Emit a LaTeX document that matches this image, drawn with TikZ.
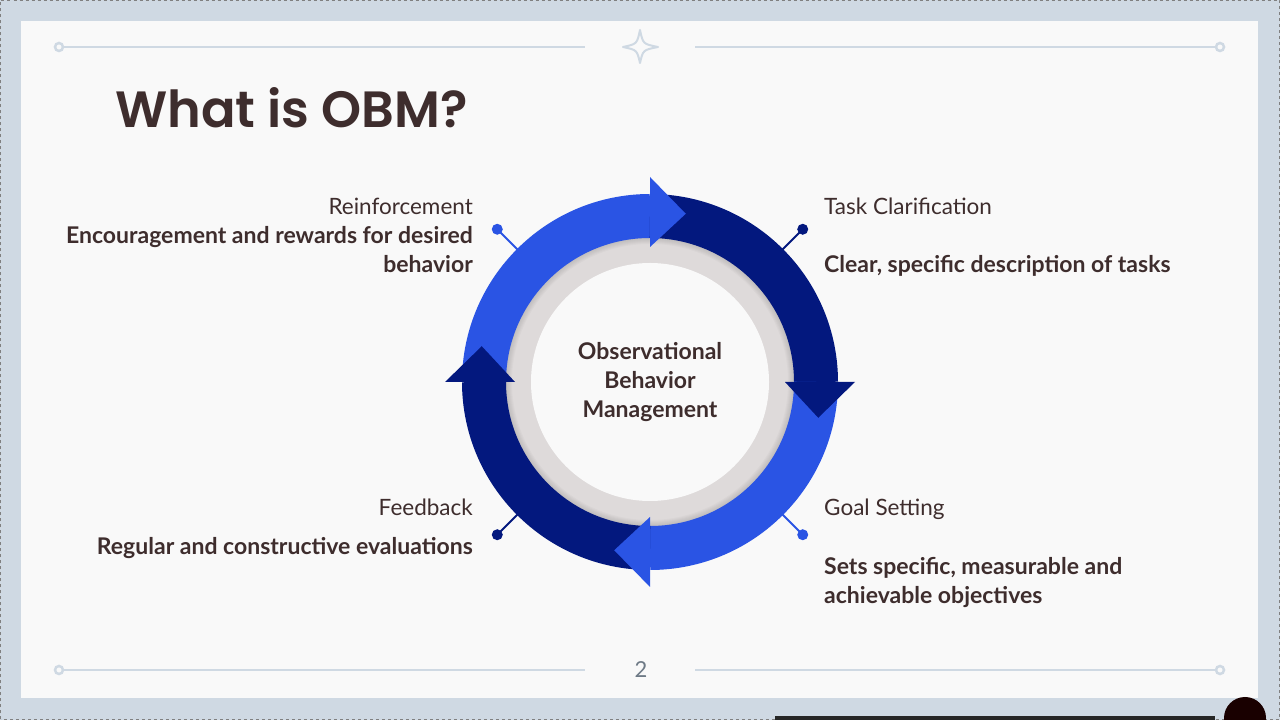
\documentclass[tikz,border=0pt]{standalone}
\usepackage{fontspec}
\setmainfont{Lato}
\newfontfamily\titlefont{Poppins SemiBold}
\usetikzlibrary{positioning}
\definecolor{frame}{HTML}{CFD9E3}
\definecolor{panel}{HTML}{F9F9F9}
\definecolor{lightblue}{HTML}{2A54E4}
\definecolor{darkblue}{HTML}{03187E}
\definecolor{ink}{HTML}{3E2D2D}
\definecolor{ringgray}{HTML}{DEDADA}
\definecolor{pagegray}{HTML}{6E7A86}

\begin{document}
\begin{tikzpicture}[x=1pt,y=1pt,
    heading/.style={font=\fontsize{22.5}{29}\selectfont, text=ink, inner sep=0pt},
    detail/.style={font=\fontsize{23}{29}\selectfont\bfseries, text=ink, inner sep=0pt},
    deco/.style={draw=frame, line width=2.5pt},
    pin/.style={line width=2pt}]
      \useasboundingbox (0,0) rectangle (1280,720);
      \fill[frame] (0,0) rectangle (1280,720);
      \draw[gray, dashed, line width=0.8pt] (0.5,0.5) rectangle (1279.5,719.5);
      \fill[panel] (21,22) rectangle (1258,699);
      \draw[deco] (63,673) -- (585,673);
      \draw[deco] (695,673) -- (1216,673);
      \draw[deco] (59,673) circle (4);
      \draw[deco] (1220,673) circle (4);
      \draw[deco] (63,50) -- (585,50);
      \draw[deco] (695,50) -- (1216,50);
      \draw[deco] (59,50) circle (4);
      \draw[deco] (1220,50) circle (4);
      \draw[frame, line width=2pt, line join=round] (623,673) .. controls (637,676) .. (640,690)
        .. controls (643,676) .. (658,673) .. controls (643,670) .. (640,657)
        .. controls (637,670) .. cycle;
      \node[font=\fontsize{22}{26}\selectfont, text=pagegray] (page) at (641,50) {2};
      \fill[black!85] (775,0) rectangle (1215,4);
      \fill[black!90!red] (1245,2) circle (21);
      \node[anchor=base west, inner sep=0pt, text=ink, font=\titlefont\fontsize{51}{60}\selectfont] (title) at (115,592) {What is OBM?};
      \coordinate (c) at (650,338);
      \coordinate (tr) at ([shift={(45:216)}]c);
      \coordinate (tl) at ([shift={(135:216)}]c);
      \coordinate (bl) at ([shift={(225:216)}]c);
      \coordinate (br) at ([shift={(315:216)}]c);
      \draw[pin, darkblue] ([shift={(45:180)}]c) -- (tr);
      \fill[darkblue] (tr) circle (5.5);
      \draw[pin, lightblue] ([shift={(135:180)}]c) -- (tl);
      \fill[lightblue] (tl) circle (5.5);
      \draw[pin, darkblue] ([shift={(225:180)}]c) -- (bl);
      \fill[darkblue] (bl) circle (5.5);
      \draw[pin, lightblue] ([shift={(315:180)}]c) -- (br);
      \fill[lightblue] (br) circle (5.5);
      \fill[ringgray] (c) circle (146);
      \foreach \w in {2,4,...,14}
        \draw[black, opacity=0.018, line width=\w pt] (c) circle (145);
      \fill[panel] (c) circle (119);
      \draw[lightblue, line width=44pt] ([shift={(180:166)}]c) arc (180:90:166);
      \draw[darkblue, line width=44pt] ([shift={(90:166)}]c) arc (90:0:166);
      \draw[lightblue, line width=44pt] ([shift={(0:166)}]c) arc (0:-90:166);
      \draw[darkblue, line width=44pt] ([shift={(-90:166)}]c) arc (-90:-180:166);
      \fill[lightblue] ([shift={(90:135)}]c) -- ([shift={(90:205)}]c) -- ([shift={(78:172)}]c) -- cycle;
      \fill[darkblue] ([shift={(0:135)}]c) -- ([shift={(0:205)}]c) -- ([shift={(-12:172)}]c) -- cycle;
      \fill[lightblue] ([shift={(-90:135)}]c) -- ([shift={(-90:205)}]c) -- ([shift={(-102:172)}]c) -- cycle;
      \fill[darkblue] ([shift={(180:135)}]c) -- ([shift={(180:205)}]c) -- ([shift={(168:172)}]c) -- cycle;
      \node[detail, align=center] (core) at (c) {Observational\\Behavior\\Management};
      \node[heading, anchor=base west] (task) at (824,505) {Task Clarification};
      \node[detail, anchor=base west] (taskdesc) at (824,447) {Clear, specific description of tasks};
      \node[heading, anchor=base west] (goal) at (824,204) {Goal Setting};
      \node[detail, anchor=base west] (goaldesc) at (824,145) {Sets specific, measurable and};
      \node[detail, anchor=base west] (goaldesc2) at (824,116) {achievable objectives};
      \node[heading, anchor=base east] (reinf) at (473,505) {Reinforcement};
      \node[detail, anchor=base east] (reinfdesc) at (473,476) {Encouragement and rewards for desired};
      \node[detail, anchor=base east] (reinfdesc2) at (473,447) {behavior};
      \node[heading, anchor=base east] (feed) at (473,204) {Feedback};
      \node[detail, anchor=base east] (feeddesc) at (473,165) {Regular and constructive evaluations};
    \end{tikzpicture}
\end{document}
